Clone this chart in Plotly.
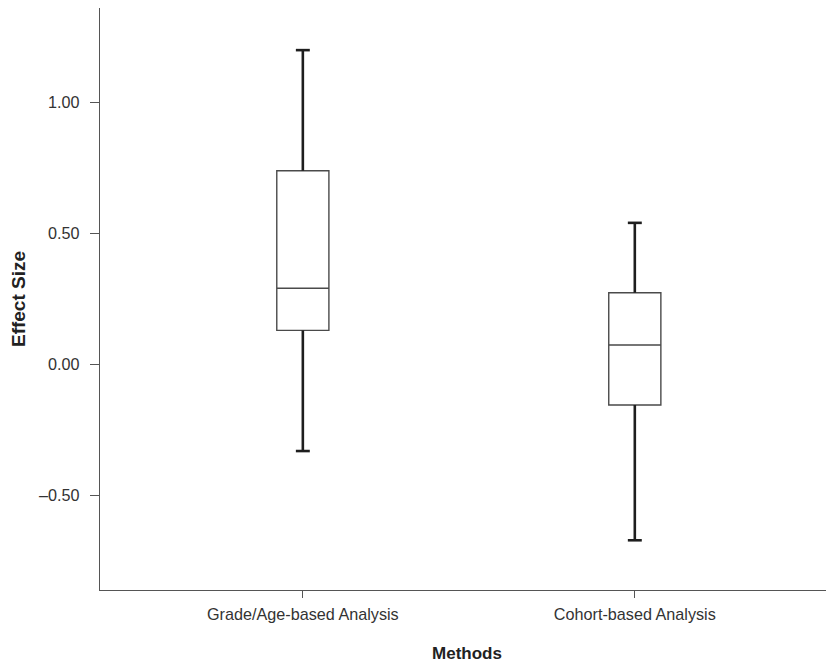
import plotly.graph_objects as go

# ---- data ----
categories = ["Grade/Age-based Analysis", "Cohort-based Analysis"]
lower_fence = [-0.332, -0.673]
q1_vals = [0.129, -0.156]
medians = [0.290, 0.073]
q3_vals = [0.739, 0.273]
upper_fence = [1.200, 0.540]

ytick_vals = [-0.5, 0.0, 0.5, 1.0]
ytick_text = ["\u20130.50", "0.00", "0.50", "1.00"]

positions = list(range(len(categories)))
BOX_W = 0.157
CAP_W = 0.042

fig = go.Figure()

fig.add_trace(go.Box(
    x=positions,
    q1=q1_vals,
    median=medians,
    q3=q3_vals,
    lowerfence=lower_fence,
    upperfence=upper_fence,
    width=BOX_W,
    fillcolor="white",
    line=dict(color="#4a4a4a", width=1.4),
    whiskerwidth=0,
    boxpoints=False,
    hoverinfo="skip",
    showlegend=False,
))

# thick whiskers with caps
wx, wy = [], []
for p, lo, a, b, hi in zip(positions, lower_fence, q1_vals, q3_vals, upper_fence):
    wx += [p, p, None, p, p, None, p - CAP_W / 2, p + CAP_W / 2, None, p - CAP_W / 2, p + CAP_W / 2, None]
    wy += [b, hi, None, lo, a, None, hi, hi, None, lo, lo, None]
fig.add_trace(go.Scatter(
    x=wx, y=wy, mode="lines",
    line=dict(color="#1e1e1e", width=2.6),
    hoverinfo="skip", showlegend=False,
))

family = "Arial, Liberation Sans, sans-serif"

fig.update_layout(
    template="none",
    width=826, height=655,
    margin=dict(l=92, r=0, t=0, b=73, pad=0),
    paper_bgcolor="white", plot_bgcolor="white",
    font=dict(family=family, size=16, color="#333333"),
    showlegend=False,
)

fig.update_xaxes(
    range=[-0.611, 1.6],
    tickvals=positions, ticktext=categories,
    showline=True, linecolor="#555555", linewidth=1.4,
    ticks="outside", ticklen=7, tickwidth=1.4, tickcolor="#555555",
    showgrid=False, zeroline=False, automargin=False,
    ticklabelstandoff=2,
    tickfont=dict(family=family, size=16.2, color="#333333"),
    title=dict(text="<b>Methods</b>", font=dict(family=family, size=17, color="#222222"), standoff=26),
)
fig.update_yaxes(
    range=[-0.863, 1.361],
    tickvals=ytick_vals, ticktext=ytick_text,
    showline=True, linecolor="#555555", linewidth=1.4,
    ticks="outside", ticklen=9, tickwidth=1.4, tickcolor="#555555",
    showgrid=False, zeroline=False, automargin=False,
    ticklabelstandoff=7,
    tickfont=dict(family=family, size=16.2, color="#333333"),
    title=dict(text="<b>Effect Size</b>", font=dict(family=family, size=19, color="#222222"), standoff=18),
)

fig.write_html("out.html")
